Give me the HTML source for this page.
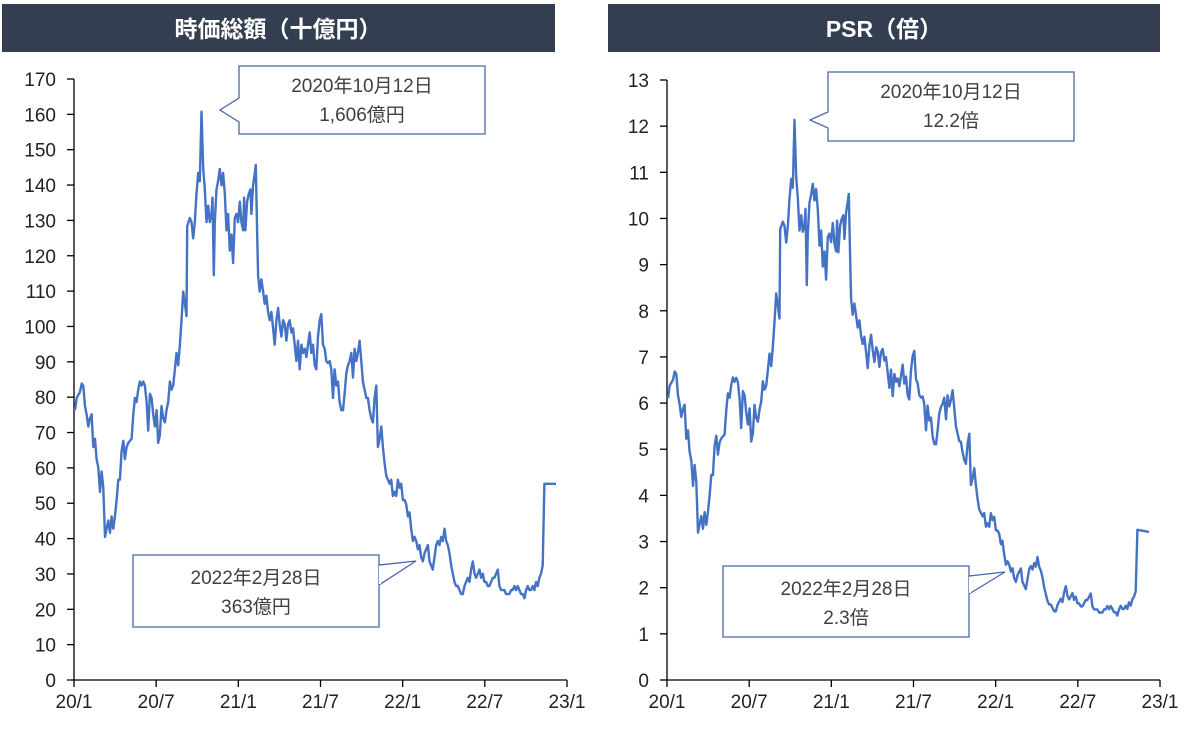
<!DOCTYPE html>
<html><head><meta charset="utf-8">
<style>
html,body{margin:0;padding:0;background:#fff;}
body{width:1200px;height:738px;overflow:hidden;}
svg text{font-family:"Liberation Sans","Noto Sans CJK JP",sans-serif;}
</style></head>
<body>
<svg id="s" width="1200" height="738" viewBox="0 0 1200 738" xmlns="http://www.w3.org/2000/svg">
<rect x="2" y="4" width="553" height="48" fill="#333f50"/>
<text x="278" y="37" text-anchor="middle" font-size="23" font-weight="bold" fill="#fff">時価総額（十億円）</text>
<rect x="608" y="4" width="552" height="48" fill="#333f50"/>
<text x="884" y="37" text-anchor="middle" font-size="23" font-weight="bold" fill="#fff">PSR（倍）</text>
<g id="axes" stroke="#000" stroke-width="1.3" fill="none"></g>
<g id="labels" font-size="19" fill="#222"></g>
<polyline id="L" fill="none" stroke="#4472c4" stroke-width="2.4" stroke-linejoin="round"/>
<polyline id="R" fill="none" stroke="#4472c4" stroke-width="2.4" stroke-linejoin="round"/>
<g fill="#fff" stroke="#4a67a8" stroke-width="1.3">
<path d="M239,66 H485 V134 H239 V122 L220,110 L239,98 Z"/>
<path d="M133,555 H379 V627 H133 Z M379,565 L416,561 L379,585"/>
<path d="M828,72 H1074 V141 H828 V128 L810,120 L828,112 Z"/>
<path d="M723,566 H969 V637 H723 Z M969,576 L1005,572 L969,594"/>
</g>
<rect x="379" y="566" width="2" height="18" fill="#fff"/>
<rect x="969" y="577" width="2" height="16" fill="#fff"/>
<g font-size="19" fill="#404040" text-anchor="middle">
<text x="362" y="92">2020年10月12日</text><text x="362" y="121">1,606億円</text>
<text x="256" y="584">2022年2月28日</text><text x="256" y="613">363億円</text>
<text x="951" y="98">2020年10月12日</text><text x="951" y="127">12.2倍</text>
<text x="846" y="595">2022年2月28日</text><text x="846" y="624">2.3倍</text>
</g>
</svg>
<script>
var NS="http://www.w3.org/2000/svg";
function el(t,a,p,txt){var e=document.createElementNS(NS,t);for(var k in a)e.setAttribute(k,a[k]);if(txt!=null)e.textContent=txt;p.appendChild(e);return e;}
var ax=document.getElementById('axes'),lb=document.getElementById('labels');
var xl=["20/1","20/7","21/1","21/7","22/1","22/7","23/1"];
function axis(x0,x1,y0,y1,n,step){
 el('line',{x1:x0,y1:y0,x2:x0,y2:y1},ax);
 el('line',{x1:x0,y1:y0,x2:x1,y2:y0},ax);
 for(var i=0;i<=n;i++){var y=y0-(y0-y1)*i/n;el('line',{x1:x0-7,y1:y,x2:x0,y2:y},ax);
  el('text',{x:x0-18,y:y+7,'text-anchor':'end'},lb,String(i*step));}
 for(var j=0;j<7;j++){var x=x0+(x1-x0)*j/6;el('line',{x1:x,y1:y0,x2:x,y2:y0+7},ax);
  el('text',{x:x,y:y0+28,'text-anchor':'middle'},lb,xl[j]);}
}
axis(74,567,680,79,17,10);
axis(667,1160,680,80,13,1);
var P=[45,860,50,830,60,815,65,795,70,800,75,850,80,870,85,900,90,880,95,870,100,950,105,930,110,980,115,1000,120,1060,125,1010,130,1050,135,1170,140,1150,145,1130,150,1160,155,1120,160,1150,165,1120,170,1080,175,1030,180,1030,185,960,190,935,195,980,200,950,205,940,215,930,220,870,225,830,230,840,235,810,240,790,245,800,250,790,255,800,260,840,265,910,270,820,275,830,280,870,285,900,290,860,295,940,300,920,305,850,310,880,315,890,320,860,325,840,330,790,335,810,340,800,345,760,350,720,355,750,360,700,365,640,370,570,375,600,380,630,382,410,390,390,395,400,400,440,405,400,410,330,415,280,420,300,425,130,430,270,435,320,440,400,445,360,450,400,455,380,458,340,462,530,465,400,470,320,475,300,480,270,485,310,490,280,495,330,500,420,505,380,510,470,515,430,520,500,525,390,530,380,535,400,540,350,545,400,550,420,553,340,557,420,562,350,567,330,572,320,575,380,580,310,585,280,588,260,592,420,595,530,600,570,605,540,610,570,615,600,620,580,625,620,630,640,635,620,640,660,645,700,650,640,655,610,660,650,665,680,670,640,675,650,680,690,685,650,690,640,695,670,700,660,705,700,710,740,715,690,720,760,725,700,730,720,735,710,740,730,745,700,750,670,755,720,760,700,765,750,770,760,775,680,780,640,785,625,790,700,795,710,800,740,805,745,810,740,815,760,820,830,825,760,830,800,835,790,840,840,845,860,850,860,855,820,860,770,865,750,870,740,875,720,880,780,885,710,890,740,895,720,900,690,905,740,910,790,915,810,920,830,925,830,930,860,935,880,940,890,945,830,950,800,955,950,960,930,965,900,970,950,975,990,980,1020,985,1030,990,1040,995,1030,1000,1070,1005,1060,1010,1070,1015,1030,1020,1050,1025,1040,1030,1080,1035,1080,1040,1090,1045,1120,1050,1110,1055,1150,1060,1180,1065,1170,1070,1180,1075,1200,1080,1190,1085,1220,1090,1230,1095,1210,1100,1200,1105,1190,1110,1230,1115,1240,1120,1250,1125,1220,1130,1190,1135,1180,1140,1190,1145,1170,1150,1180,1155,1150,1160,1180,1165,1190,1170,1210,1175,1240,1180,1260,1185,1280,1190,1290,1195,1290,1200,1300,1205,1310,1210,1310,1215,1290,1220,1280,1225,1270,1230,1280,1235,1250,1240,1230,1245,1260,1250,1270,1255,1260,1260,1250,1265,1270,1270,1260,1275,1280,1280,1280,1285,1290,1290,1290,1295,1280,1300,1270,1305,1270,1310,1260,1315,1250,1320,1290,1325,1300,1330,1300,1335,1300,1340,1310,1345,1310,1350,1310,1355,1300,1360,1300,1365,1290,1370,1300,1375,1290,1380,1300,1385,1310,1390,1310,1395,1320,1400,1300,1405,1290,1410,1300,1415,1300,1420,1290,1425,1300,1430,1280,1435,1290,1440,1270,1445,1260,1450,1240,1455,1040,1490,1040];
var RK=[[0,12.5],[9,13.2],[13,13.8],[18,14.5],[22,15.6],[26,15.8],[30,16.7],[34,16.5],[34.5,17.3],[36,17.3]];
function ratio(t){for(var i=1;i<RK.length;i++){if(t<=RK[i][0]){var a=RK[i-1],b=RK[i];return a[1]+(b[1]-a[1])*(t-a[0])/(b[0]-a[0]);}}return 17.3;}
var l=[],r=[];
for(var i=0;i<P.length;i+=2){
 var m=(P[i]-42)/1481*36, v=170*(1520-P[i+1])/1470;
 var xl1=74+m*493/36, yl=680-v*601/170;
 l.push(xl1.toFixed(1)+","+yl.toFixed(1));
 var pv=v/ratio(m), xr=667+m*493/36, yr=680-pv*600/13;
 r.push(xr.toFixed(1)+","+yr.toFixed(1));
}
document.getElementById('L').setAttribute('points',l.join(' '));
document.getElementById('R').setAttribute('points',r.join(' '));
</script>
</body></html>
